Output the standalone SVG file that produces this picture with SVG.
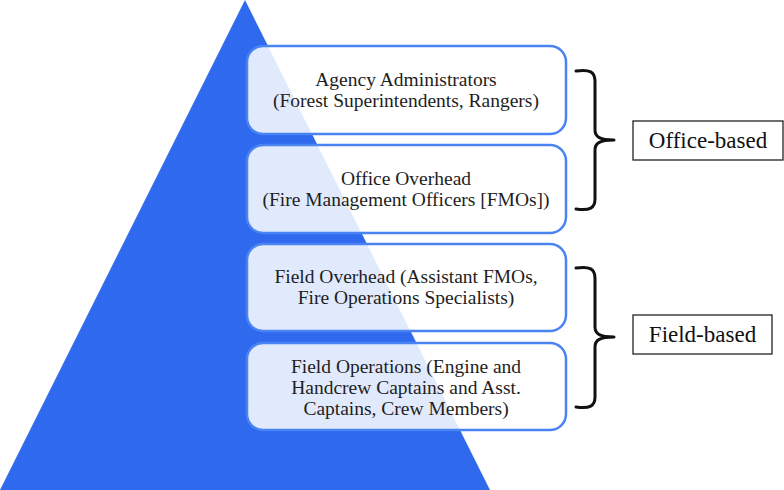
<svg xmlns="http://www.w3.org/2000/svg" width="784" height="490" viewBox="0 0 784 490">
<style>
.box{fill:#ffffff;fill-opacity:0.86;stroke:#4a84f2;stroke-width:2.5}
.t{font-family:"Liberation Serif","Times New Roman",serif;font-size:19.5px;fill:#1e1e1e;text-anchor:middle}
.lbl{fill:#ffffff;stroke:#222;stroke-width:1.3}
.lt{font-family:"Liberation Serif","Times New Roman",serif;font-size:23px;fill:#111;text-anchor:middle}
.brace{fill:none;stroke:#111;stroke-width:3;stroke-linecap:round;stroke-linejoin:round}
</style>
<rect width="784" height="490" fill="#ffffff"/>
<polygon id="pyramid" points="245,0 490,490 0,490" fill="#2f69ee"/>
<g id="agency">
<rect class="box" x="247" y="46" width="319" height="88" rx="16"/>
<text class="t" x="406" y="86">Agency Administrators</text>
<text class="t" x="406" y="107">(Forest Superintendents, Rangers)</text>
</g>
<g id="office-overhead">
<rect class="box" x="247" y="145" width="319" height="88" rx="16"/>
<text class="t" x="406" y="185">Office Overhead</text>
<text class="t" x="406" y="206">(Fire Management Officers [FMOs])</text>
</g>
<g id="field-overhead">
<rect class="box" x="247" y="244" width="319" height="87" rx="16"/>
<text class="t" x="406" y="283">Field Overhead (Assistant FMOs,</text>
<text class="t" x="406" y="304">Fire Operations Specialists)</text>
</g>
<g id="field-operations">
<rect class="box" x="247" y="343" width="319" height="87" rx="16"/>
<text class="t" x="406" y="373">Field Operations (Engine and</text>
<text class="t" x="406" y="394">Handcrew Captains and Asst.</text>
<text class="t" x="406" y="415">Captains, Crew Members)</text>
</g>
<g id="connectors">
<path class="brace" d="M576,71 C590,69 595,72 595,81 L595,130 C595,137 600,140 614,140 M576,209 C590,211 595,208 595,199 L595,150 C595,143 600,140 614,140"/>
<path class="brace" d="M576,268 C590,266 595,269 595,278 L595,327 C595,334 600,337 614,337 M576,407 C590,409 595,406 595,397 L595,347 C595,340 600,337 614,337"/>
</g>
<g id="office-based">
<rect class="lbl" x="633" y="121" width="150" height="39"/>
<text class="lt" x="708" y="148">Office-based</text>
</g>
<g id="field-based">
<rect class="lbl" x="633" y="315" width="139" height="39"/>
<text class="lt" x="702.5" y="342">Field-based</text>
</g>
</svg>
